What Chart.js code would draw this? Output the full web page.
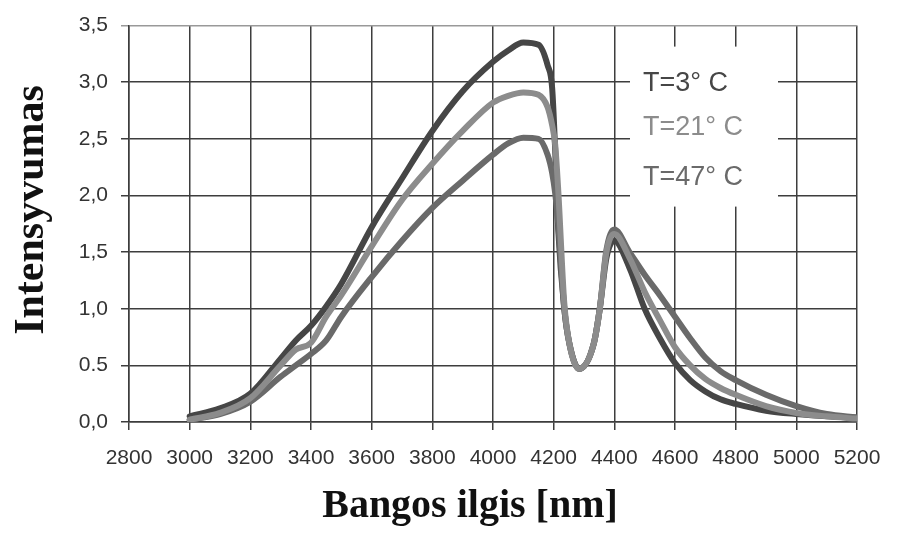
<!DOCTYPE html>
<html>
<head>
<meta charset="utf-8">
<script src="https://cdn.jsdelivr.net/npm/chart.js@4.4.1/dist/chart.umd.min.js"></script>
<style>
    body { margin: 0; background: #fff; }
    #wrap { width: 901px; height: 534px; position: relative; }
</style>
</head>
<body>
<div id="wrap"><canvas id="spectrum"></canvas></div>
<script>
// wavelengths (nm) shared by the three curves
const wavelengths = [3000, 3100, 3200, 3300, 3350, 3400, 3450, 3500, 3600, 3700, 3800, 3900, 4000, 4050, 4100, 4150, 4180, 4195, 4205, 4215, 4235, 4252, 4284, 4332, 4352, 4374, 4400, 4450, 4500, 4550, 4600, 4650, 4700, 4750, 4800, 4900, 5000, 5100, 5200];

const intensity3 = [0.05, 0.12, 0.25, 0.56, 0.72, 0.85, 1.02, 1.22, 1.72, 2.15, 2.57, 2.92, 3.18, 3.28, 3.35, 3.33, 3.15, 2.95, 2.4, 1.7, 1.0, 0.69, 0.47, 0.69, 1.0, 1.45, 1.6, 1.36, 1.0, 0.74, 0.52, 0.37, 0.27, 0.2, 0.16, 0.1, 0.07, 0.05, 0.04];
const intensity21 = [0.02, 0.08, 0.21, 0.5, 0.64, 0.7, 0.93, 1.12, 1.55, 1.96, 2.28, 2.57, 2.82, 2.88, 2.91, 2.89, 2.78, 2.62, 2.45, 2.05, 1.05, 0.69, 0.47, 0.69, 1.0, 1.5, 1.66, 1.45, 1.15, 0.9, 0.66, 0.5, 0.38, 0.3, 0.24, 0.14, 0.08, 0.05, 0.03];
const intensity47 = [0.02, 0.07, 0.18, 0.4, 0.5, 0.6, 0.72, 0.93, 1.28, 1.6, 1.89, 2.13, 2.36, 2.46, 2.51, 2.5, 2.36, 2.2, 2.02, 1.75, 1.0, 0.69, 0.47, 0.69, 1.0, 1.52, 1.7, 1.5, 1.3, 1.12, 0.93, 0.74, 0.57, 0.45, 0.37, 0.24, 0.14, 0.07, 0.04];

const seriesLabels = ['T=3° C', 'T=21° C', 'T=47° C'];
const seriesColors = ['#464646', '#8c8c8c', '#6a6a6a'];

const xTickLabels = ['2800', '3000', '3200', '3400', '3600', '3800', '4000', '4200', '4400', '4600', '4800', '5000', '5200'];
const yTickLabels = ['0,0', '0.5', '1,0', '1,5', '2,0', '2,5', '3,0', '3,5'];

const xTitle = 'Bangos ilgis [nm]';
const yTitle = 'Intensyvumas';

const gridColor = '#3d3d3d';

function toPoints(ys) {
    return wavelengths.map((x, i) => ({ x: x, y: ys[i] }));
}

// white box with the three labels, drawn over the grid
const boxLegend = {
    id: 'boxLegend',
    beforeDatasetsDraw(chart) {
        const { ctx, chartArea } = chart;
        const left = chartArea.right - 227;
        const top = chartArea.top + 21;
        ctx.save();
        ctx.fillStyle = '#fff';
        ctx.fillRect(left, top, 148, 160);
        ctx.font = '27px "Liberation Sans", Arial, sans-serif';
        ctx.textAlign = 'left';
        ctx.textBaseline = 'alphabetic';
        const offsets = [44, 88, 138];
        chart.data.datasets.forEach((ds, i) => {
            ctx.fillStyle = ds.borderColor;
            ctx.fillText(ds.label, left + 13, top + offsets[i]);
        });
        ctx.restore();
    }
};

const axisTitles = {
    id: 'axisTitles',
    afterDraw(chart) {
        const { ctx } = chart;
        ctx.save();
        ctx.fillStyle = '#111';
        ctx.font = 'bold 40px "Liberation Serif", "Times New Roman", serif';
        ctx.textAlign = 'center';
        ctx.textBaseline = 'alphabetic';
        ctx.fillText(xTitle, 470, 517);
        ctx.translate(43, 210);
        ctx.rotate(-Math.PI / 2);
        ctx.font = 'bold 42px "Liberation Serif", "Times New Roman", serif';
        ctx.fillText(yTitle, 0, 0);
        ctx.restore();
    }
};

const ctx = document.getElementById('spectrum').getContext('2d');
const chart = new Chart(ctx, {
    type: 'line',
    data: {
        datasets: [
            { label: seriesLabels[0], data: toPoints(intensity3), borderColor: seriesColors[0], order: 3 },
            { label: seriesLabels[1], data: toPoints(intensity21), borderColor: seriesColors[1], order: 1 },
            { label: seriesLabels[2], data: toPoints(intensity47), borderColor: seriesColors[2], order: 2 }
        ]
    },
    options: {
        responsive: true,
        maintainAspectRatio: false,
        animation: false,
        layout: {
            padding: { top: 16, right: 44, left: 0, bottom: 0 }
        },
        elements: {
            line: { borderWidth: 6, cubicInterpolationMode: 'monotone', borderCapStyle: 'round' },
            point: { radius: 0 }
        },
        plugins: {
            legend: { display: false },
            tooltip: { enabled: false }
        },
        scales: {
            x: {
                type: 'linear',
                min: 2800,
                max: 5200,
                afterFit(scale) { scale.height = 112; },
                grid: { color: gridColor, lineWidth: 1.5, tickLength: 8 },
                border: { color: gridColor, width: 1.5 },
                ticks: {
                    stepSize: 200,
                    color: '#333',
                    padding: 16,
                    font: { family: '"Liberation Sans", Arial, sans-serif', size: 21 },
                    callback: (value, index) => xTickLabels[index]
                }
            },
            y: {
                min: 0,
                max: 3.5,
                afterFit(scale) { scale.width = 129; },
                grid: {
                    color: (c) => c.tick && c.tick.value === 3.5 ? '#999' : gridColor,
                    lineWidth: 1.5,
                    tickLength: 8
                },
                border: { color: gridColor, width: 1.5 },
                ticks: {
                    stepSize: 0.5,
                    color: '#333',
                    padding: 13,
                    font: { family: '"Liberation Sans", Arial, sans-serif', size: 21 },
                    callback: (value, index) => yTickLabels[index]
                }
            }
        }
    },
    plugins: [boxLegend, axisTitles]
});
</script>
</body>
</html>
